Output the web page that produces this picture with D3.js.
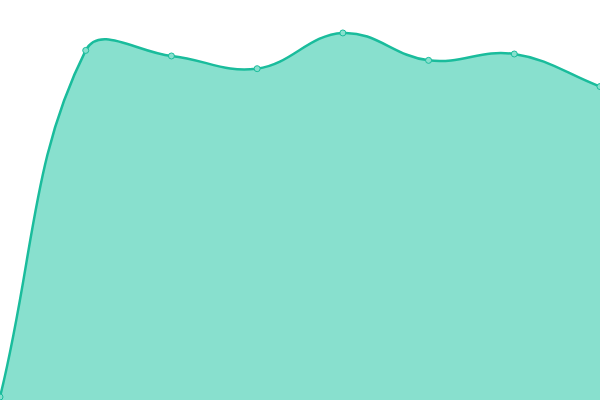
<!DOCTYPE html>
<html><head><meta charset="utf-8">
<script src="https://cdn.jsdelivr.net/npm/d3@7"></script>
<style>html,body{margin:0;padding:0;background:#fff;overflow:hidden}svg{display:block}</style>
</head><body>
<svg id="c" width="600" height="400"></svg>
<script>
const categories = ["1","2","3","4","5","6","7","8"];
const values = [0, 87.3, 85.9, 82.7, 91.7, 84.8, 86.4, 78.2];

const W = 600, H = 400;
const svg = d3.select("#c");
const x = d3.scalePoint().domain(categories).range([0, W]);
const y = d3.scaleLinear().domain([0, 100]).range([397, 0]);

const pts = values.map((v, i) => ({x: x(categories[i]), y: y(v)}));

// Chart.js style spline (tension 0.4)
function controlPoints(p0, p1, p2, t) {
  const d01 = Math.hypot(p1.x - p0.x, p1.y - p0.y);
  const d12 = Math.hypot(p2.x - p1.x, p2.y - p1.y);
  let s01 = d01 / (d01 + d12), s12 = d12 / (d01 + d12);
  s01 = isNaN(s01) ? 0 : s01; s12 = isNaN(s12) ? 0 : s12;
  const fa = t * s01, fb = t * s12;
  return {
    prev: {x: p1.x - fa * (p2.x - p0.x), y: p1.y - fa * (p2.y - p0.y)},
    next: {x: p1.x + fb * (p2.x - p0.x), y: p1.y + fb * (p2.y - p0.y)}
  };
}
const cps = pts.map((p, i) => {
  const p0 = pts[Math.max(0, i - 1)], p2 = pts[Math.min(pts.length - 1, i + 1)];
  const c = controlPoints(p0, p, p2, 0.4);
  const clamp = q => ({x: Math.max(0, Math.min(W, q.x)), y: Math.max(0, Math.min(H, q.y))});
  return {prev: clamp(c.prev), next: clamp(c.next)};
});
function linePath(ctx) {
  ctx.moveTo(pts[0].x, pts[0].y);
  for (let i = 1; i < pts.length; i++) {
    const a = cps[i - 1].next, b = cps[i].prev;
    ctx.bezierCurveTo(a.x, a.y, b.x, b.y, pts[i].x, pts[i].y);
  }
  return ctx;
}
const lp = linePath(d3.path()).toString();
const ap = d3.path();
linePath(ap);
ap.lineTo(pts[pts.length - 1].x, H);
ap.lineTo(pts[0].x, H);
ap.closePath();

svg.append("path").attr("d", ap.toString()).attr("fill", "#88e0ce").attr("stroke", "none");
svg.append("path").attr("d", lp).attr("fill", "none").attr("stroke", "#1abc9c").attr("stroke-width", 2.5);
svg.selectAll("circle").data(pts).join("circle")
  .attr("cx", d => d.x).attr("cy", d => d.y).attr("r", 3)
  .attr("fill", "#88e0ce").attr("stroke", "#1abc9c").attr("stroke-width", 1);
</script>
</body></html>
